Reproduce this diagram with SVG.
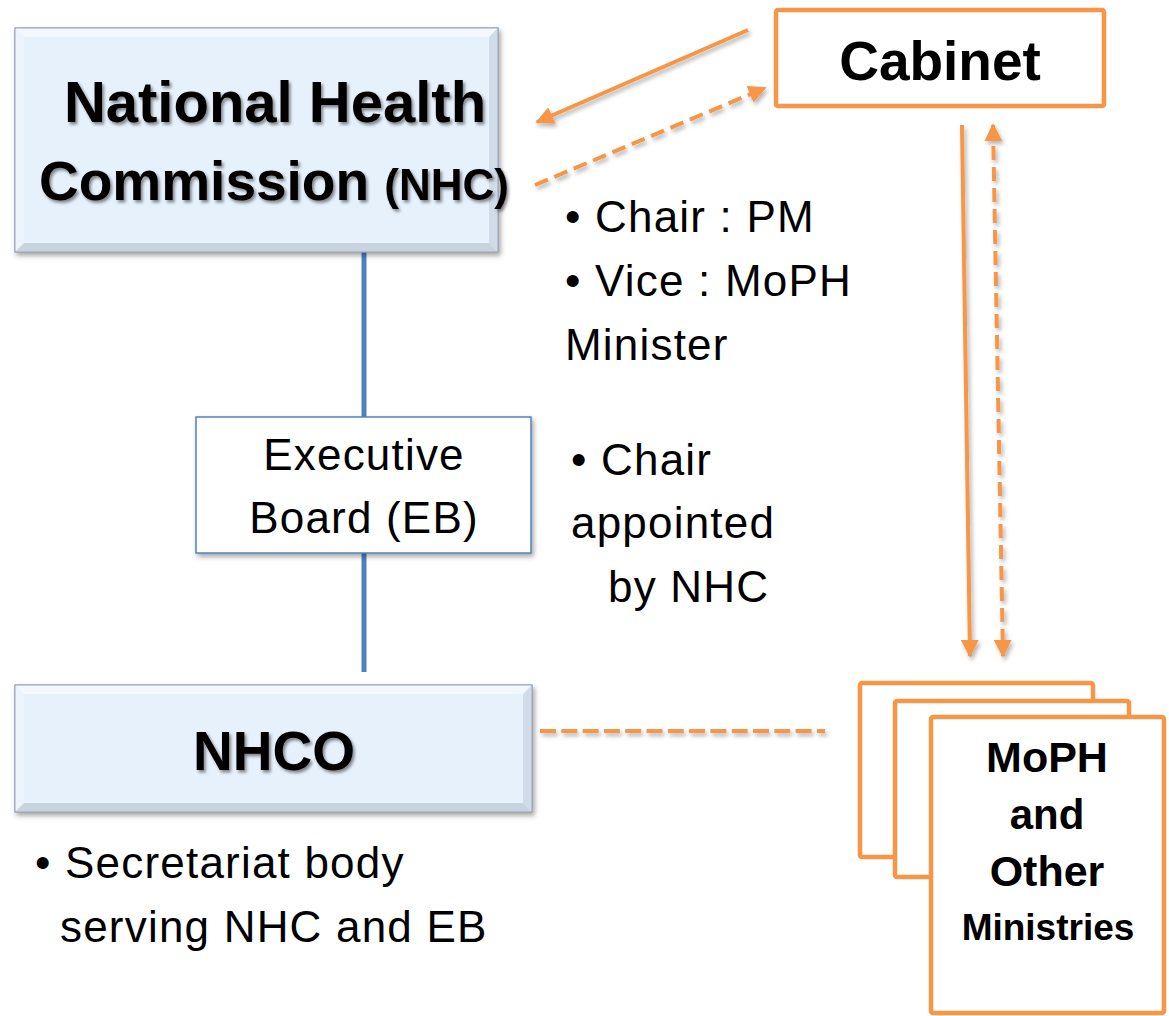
<svg xmlns="http://www.w3.org/2000/svg" width="1169" height="1016" viewBox="0 0 1169 1016">
<defs>
<filter id="sh" x="-10%" y="-10%" width="130%" height="130%">
<feDropShadow dx="2" dy="3" stdDeviation="2.5" flood-color="#000" flood-opacity="0.35"/>
</filter>
<filter id="tsh" x="-10%" y="-10%" width="130%" height="140%">
<feDropShadow dx="2" dy="2.5" stdDeviation="1.5" flood-color="#000" flood-opacity="0.45"/>
</filter>
<filter id="lsh" x="-20%" y="-20%" width="140%" height="140%">
<feDropShadow dx="2" dy="3" stdDeviation="2" flood-color="#000" flood-opacity="0.3"/>
</filter>
<marker id="ah" viewBox="0 0 10 10" refX="9" refY="5" markerWidth="4.5" markerHeight="4.5" orient="auto-start-reverse" markerUnits="strokeWidth">
<path d="M0,0 L10,5 L0,10 Z" fill="#F79646"/>
</marker>
</defs>
<style>
.bold{font-family:"Liberation Sans",Arial,sans-serif;font-weight:bold;fill:#000}
.reg{font-family:"Liberation Sans",Arial,sans-serif;fill:#000;font-size:44px;letter-spacing:1.2px}
.or{fill:none;stroke:#F79646;stroke-width:4}
.ob{fill:#fff;stroke:#F79646;stroke-width:4.5}
.bl{stroke:#4F81BD;stroke-width:5;fill:none}
.bev{fill:#E7F1FC;stroke:#7F8FA6;stroke-width:1}
</style>

<g id="connectors">
<line class="bl" x1="364" y1="252" x2="364" y2="417"/>
<line class="bl" x1="364" y1="553" x2="364" y2="672"/>
<g filter="url(#lsh)">
<line class="or" x1="748" y1="30" x2="537" y2="122" marker-end="url(#ah)"/>
<line class="or" x1="535" y1="185" x2="765" y2="88" stroke-dasharray="14,7" marker-end="url(#ah)"/>
<line class="or" x1="962" y1="125" x2="970" y2="656" marker-end="url(#ah)"/>
<line class="or" x1="993" y1="125" x2="1003" y2="656" stroke-dasharray="14,7" marker-start="url(#ah)" marker-end="url(#ah)"/>
<line class="or" x1="540" y1="731" x2="825" y2="731" stroke-dasharray="16,5.3" stroke-width="5"/>
</g>
</g>

<g id="nhc">
<g filter="url(#sh)">
<rect class="bev" x="15" y="28" width="483" height="224"/>
<polygon points="15,28 498,28 489,37 24,37" fill="#F4F8FE"/>
<polygon points="15,28 24,37 24,243 15,252" fill="#EEF4FD"/>
<polygon points="498,28 498,252 489,243 489,37" fill="#D2DCE8"/>
<polygon points="15,252 498,252 489,243 24,243" fill="#C9D3DF"/>
<rect x="15" y="28" width="483" height="224" fill="none" stroke="#9AA6B5" stroke-width="1"/>
</g>
<g filter="url(#tsh)">
<text class="bold" x="275" y="122" font-size="58" text-anchor="middle">National Health</text>
<text class="bold" x="274" y="200" text-anchor="middle"><tspan font-size="55">Commission </tspan><tspan font-size="44">(NHC)</tspan></text>
</g>
</g>

<g id="cabinet">
<rect class="ob" x="776" y="10" width="328" height="96" rx="2"/>
<text class="bold" x="940" y="80" font-size="55" text-anchor="middle">Cabinet</text>
</g>

<g id="nhc-notes">
<text class="reg"><tspan x="565" y="232">• Chair : PM</tspan><tspan x="565" y="296">• Vice : MoPH</tspan><tspan x="565" y="360">Minister</tspan></text>
</g>

<g id="eb">
<rect x="196" y="417" width="335" height="136" fill="#fff" stroke="#4F81BD" stroke-width="1.5" filter="url(#sh)"/>
<text class="reg" text-anchor="middle"><tspan x="364" y="470">Executive</tspan><tspan x="364" y="533">Board (EB)</tspan></text>
</g>

<g id="eb-notes">
<text class="reg"><tspan x="571" y="475">• Chair</tspan><tspan x="571" y="538">appointed</tspan><tspan x="608" y="602">by NHC</tspan></text>
</g>

<g id="nhco">
<g filter="url(#sh)">
<rect class="bev" x="15" y="685" width="517" height="127"/>
<polygon points="15,685 532,685 523,694 24,694" fill="#F4F8FE"/>
<polygon points="15,685 24,694 24,803 15,812" fill="#EEF4FD"/>
<polygon points="532,685 532,812 523,803 523,694" fill="#D2DCE8"/>
<polygon points="15,812 532,812 523,803 24,803" fill="#C9D3DF"/>
<rect x="15" y="685" width="517" height="127" fill="none" stroke="#9AA6B5" stroke-width="1"/>
</g>
<text class="bold" x="274" y="770" font-size="55" text-anchor="middle" filter="url(#tsh)">NHCO</text>
</g>

<g id="nhco-notes">
<text class="reg"><tspan x="35" y="878">• Secretariat body</tspan><tspan x="60" y="942">serving NHC and EB</tspan></text>
</g>

<g id="ministries">
<rect class="ob" x="860" y="683" width="233" height="174" rx="2"/>
<rect class="ob" x="895" y="701" width="234" height="176" rx="2"/>
<rect class="ob" x="931" y="717" width="233" height="296" rx="2"/>
<text class="bold" text-anchor="middle"><tspan x="1047" y="772" font-size="43">MoPH</tspan><tspan x="1047" y="829" font-size="42">and</tspan><tspan x="1047" y="886" font-size="43">Other</tspan><tspan x="1048" y="940" font-size="37">Ministries</tspan></text>
</g>
</svg>
